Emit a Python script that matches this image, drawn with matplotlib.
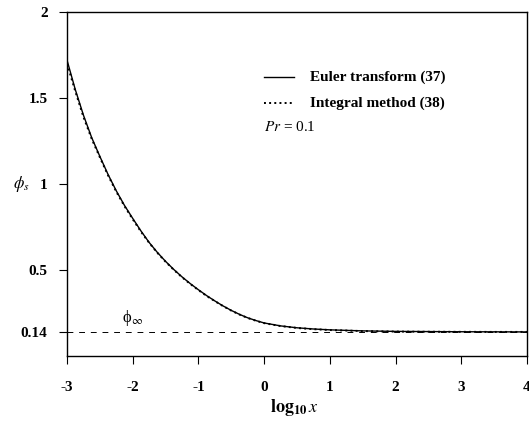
import numpy as np
import matplotlib.pyplot as plt

plt.rcParams['font.family'] = ['Liberation Serif', 'DejaVu Serif']
plt.rcParams['mathtext.fontset'] = 'stix'

# log10 x and phi_s for Pr = 0.1
logx = [-3, -2.875, -2.75, -2.625, -2.5, -2.375, -2.25, -2.125, -2, -1.875,
        -1.75, -1.625, -1.5, -1.375, -1.25, -1.125, -1, -0.875, -0.75, -0.625,
        -0.5, -0.375, -0.25, -0.125, 0, 0.25, 0.5, 0.75, 1, 1.5, 2, 2.5, 3, 3.5, 4]
euler = [1.72, 1.55, 1.40, 1.27, 1.16, 1.055, 0.96, 0.875, 0.80, 0.727,
         0.66, 0.602, 0.55, 0.503, 0.46, 0.421, 0.385, 0.351, 0.32, 0.291,
         0.265, 0.242, 0.222, 0.206, 0.192, 0.175, 0.164, 0.157, 0.152, 0.146,
         0.143, 0.142, 0.141, 0.1405, 0.140]
integral = [1.70, 1.54, 1.39, 1.263, 1.155, 1.05, 0.955, 0.871, 0.795, 0.723,
            0.658, 0.600, 0.548, 0.501, 0.458, 0.419, 0.383, 0.349, 0.319, 0.290,
            0.264, 0.241, 0.221, 0.205, 0.191, 0.174, 0.163, 0.156, 0.151, 0.145,
            0.142, 0.141, 0.1405, 0.140, 0.140]
phi_inf = 0.14

xticks = [-3, -2, -1, 0, 1, 2, 3, 4]
yticks = [0.14, 0.5, 1, 1.5, 2]
ytick_labels = ['0.14', '0.5', '1', '1.5', '2']

fig = plt.figure(figsize=(5.29, 4.21), dpi=100)
ax = fig.add_axes([0.1267, 0.1544, 0.8695, 0.8171])

ax.plot(logx, euler, '-', color='black', lw=1.0)
ax.plot(logx, integral, ':', color='black', lw=1.4)
ax.axhline(phi_inf, color='black', lw=0.7, ls=(0, (6, 6)))
ax.text(-2.0, 0.165, '\u03d5$_\\infty$', fontsize=12, ha='center', va='bottom')

ax.set_xlim(-3, 4)
ax.set_ylim(0, 2)
ax.set_xticks(xticks)
ax.set_xticklabels([str(t) for t in xticks], fontsize=11, fontweight='bold')
ax.set_yticks(yticks)
ax.set_yticklabels(ytick_labels, fontsize=11, fontweight='bold')
ax.tick_params(direction='out', length=6, width=0.8)
ax.tick_params(axis='x', pad=12)
ax.tick_params(axis='y', pad=8)

ax.set_xlabel(r'$\mathbf{log}_{\mathbf{10}}\,\mathbf{\mathit{x}}$', fontsize=13, va='center')
ax.xaxis.set_label_coords(0.495, -0.15)
ax.set_ylabel(r'$\phi_s$', fontsize=12, rotation=0, va='center')
ax.yaxis.set_label_coords(-0.1, 0.5)

for s in ax.spines.values():
    s.set_linewidth(1.0)

# legend drawn by hand like the figure
ax.plot([0.0, 0.45], [1.62, 1.62], '-', color='black', lw=1.0)
ax.plot([0.0, 0.45], [1.47, 1.47], ':', color='black', lw=1.4)
ax.text(0.7, 1.62, 'Euler transform (37)', fontsize=11, fontweight='bold', va='center')
ax.text(0.7, 1.47, 'Integral method (38)', fontsize=11, fontweight='bold', va='center')
ax.text(0.0, 1.33, r'$Pr$ = 0.1', fontsize=11, va='center')

fig.savefig('out.png', dpi=100)
